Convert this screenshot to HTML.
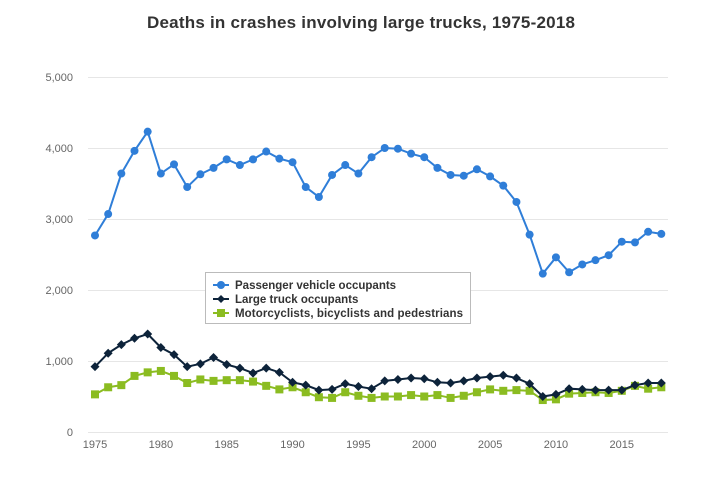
<!DOCTYPE html>
<html><head><meta charset="utf-8"><style>
body{margin:0;background:#fff;font-family:"Liberation Sans",Arial,sans-serif}
svg text{font-family:"Liberation Sans",Arial,sans-serif}
</style></head><body>
<svg id="c" width="722" height="483">
<text x="361" y="28" text-anchor="middle" font-size="17" font-weight="bold" fill="#333" textLength="428">Deaths in crashes involving large trucks, 1975-2018</text>
<g id="grid"></g><g id="series"></g>
<g>
<rect x="205.5" y="272.5" width="265" height="51" fill="#fff" stroke="#bbb"/>
<g><line x1="213" x2="229" y1="285" y2="285" stroke="#2f7ed8" stroke-width="2"/><circle cx="221" cy="285" r="4" fill="#2f7ed8"/><text x="235" y="289" font-size="11.5" font-weight="bold" fill="#333">Passenger vehicle occupants</text></g>
<g><line x1="213" x2="229" y1="299" y2="299" stroke="#0d233a" stroke-width="2"/><path d="M221 295 L225 299 L221 303 L217 299Z" fill="#0d233a"/><text x="235" y="303" font-size="11.5" font-weight="bold" fill="#333">Large truck occupants</text></g>
<g><line x1="213" x2="229" y1="313" y2="313" stroke="#8bbc21" stroke-width="2"/><rect x="217" y="309" width="8" height="8" fill="#8bbc21"/><text x="235" y="317" font-size="11.5" font-weight="bold" fill="#333" textLength="228">Motorcyclists, bicyclists and pedestrians</text></g>
</g>
</svg>
<script>
const years=[];for(let y=1975;y<=2018;y++)years.push(y);
const passenger=[2768,3070,3640,3960,4230,3640,3770,3450,3630,3720,3840,3760,3840,3950,3850,3800,3450,3310,3620,3760,3640,3870,4000,3990,3920,3870,3720,3620,3610,3700,3600,3470,3240,2780,2230,2460,2250,2360,2420,2490,2680,2670,2820,2790];
const truck=[920,1110,1230,1320,1380,1190,1090,920,960,1050,950,900,830,900,840,700,660,590,600,680,640,610,720,740,760,750,700,690,720,760,780,800,760,680,500,530,610,600,590,590,590,660,690,690];
const others=[530,630,660,790,840,860,790,690,740,720,730,730,710,650,600,630,560,490,480,560,510,480,500,500,520,500,520,480,510,560,600,580,590,580,450,460,540,550,560,550,580,650,610,630];
const yTicks=[0,1000,2000,3000,4000,5000];
const yLabels=["0","1,000","2,000","3,000","4,000","5,000"];
const xTicks=[1975,1980,1985,1990,1995,2000,2005,2010,2015];
const NS='http://www.w3.org/2000/svg';
const X=v=>95+(v-1975)*13.17, Y=v=>432-v*0.071;
function mk(t,a,p){const e=document.createElementNS(NS,t);for(const k in a)e.setAttribute(k,a[k]);p.appendChild(e);return e;}
const g=document.getElementById('grid');
yTicks.forEach((t,i)=>{const l=mk('line',{x1:88,x2:668,y1:Y(t)+.5,y2:Y(t)+.5,stroke:'#e6e6e6'},g);


const tx=mk('text',{x:73,y:Y(t)+4,'text-anchor':'end','font-size':11,fill:'#666'},g);tx.textContent=yLabels[i];

});
xTicks.forEach(t=>{const tx=mk('text',{x:X(t),y:448,'text-anchor':'middle','font-size':11,fill:'#666'},g);tx.textContent=t;

});
const s=document.getElementById('series');
function draw(data,color,shape,name){
const p=mk('polyline',{points:data.map((v,i)=>X(years[i])+','+Y(v)).join(' '),fill:'none',stroke:color,'stroke-width':2},s);


data.forEach((v,i)=>{const x=X(years[i]),y=Y(v);let m;
if(shape==='c')m=mk('circle',{cx:x,cy:y,r:4,fill:color},s);
else if(shape==='d')m=mk('path',{d:`M${x} ${y-4.5}L${x+4.5} ${y}L${x} ${y+4.5}L${x-4.5} ${y}Z`,fill:color},s);
else m=mk('rect',{x:x-4,y:y-4,width:8,height:8,fill:color},s);

});}
draw(others,'#8bbc21','s','others');
draw(truck,'#0d233a','d','truck');
draw(passenger,'#2f7ed8','c','passenger');
</script>
</body></html>
